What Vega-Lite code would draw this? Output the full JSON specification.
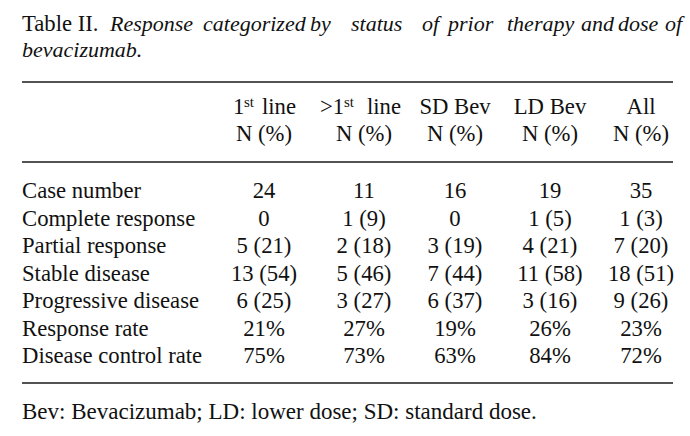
{
  "$schema": "https://vega.github.io/schema/vega-lite/v6.json",
  "width": 690,
  "height": 436,
  "autosize": {"type": "none"},
  "padding": 0,
  "background": "white",
  "config": {
    "font": "Liberation Serif",
    "view": {"stroke": null},
    "mark": {"font": "Liberation Serif"},
    "text": {"font": "Liberation Serif", "fontSize": 22.7, "baseline": "alphabetic", "color": "#111111"}
  },
  "encoding": {
    "x": {"field": "col", "type": "quantitative", "axis": null,
      "scale": {"domain": [0, 1, 2, 3, 4, 5, 6], "range": [22, 264, 364, 455, 550, 641, 673], "zero": false, "nice": false}},
    "y": {"field": "row", "type": "quantitative", "axis": null,
      "scale": {"domain": [0, 1, 2, 3, 4, 5, 6, 7, 8, 9, 10, 11, 12, 13, 14],
        "range": [31, 57, 82, 114, 141, 162, 198, 225.5, 253, 280.5, 308, 335.5, 363, 383, 419], "zero": false, "nice": false}}
  },
  "layer": [
    {
      "data": {"values": [{"row": 2, "col": 0, "colEnd": 6}, {"row": 5, "col": 0, "colEnd": 6}, {"row": 13, "col": 0, "colEnd": 6}]},
      "mark": {"type": "rule", "strokeWidth": 1.6, "color": "#1a1a1a"},
      "encoding": {"x2": {"field": "colEnd"}}
    },
    {
      "data": {"values": [{"row": 0, "col": 0, "text": "Table II."}]},
      "mark": {"type": "text", "align": "left"},
      "encoding": {"text": {"field": "text"}}
    },
    {
      "data": {"values": [{"row": 0, "col": 0, "text": "Response"}]},
      "mark": {"type": "text", "align": "left", "fontStyle": "italic", "fontSize": 22, "dx": 88},
      "encoding": {"text": {"field": "text"}}
    },
    {
      "data": {"values": [{"row": 0, "col": 0, "text": "categorized"}]},
      "mark": {"type": "text", "align": "left", "fontStyle": "italic", "fontSize": 22, "dx": 181},
      "encoding": {"text": {"field": "text"}}
    },
    {
      "data": {"values": [{"row": 0, "col": 0, "text": "by"}]},
      "mark": {"type": "text", "align": "left", "fontStyle": "italic", "fontSize": 22, "dx": 288},
      "encoding": {"text": {"field": "text"}}
    },
    {
      "data": {"values": [{"row": 0, "col": 0, "text": "status"}]},
      "mark": {"type": "text", "align": "left", "fontStyle": "italic", "fontSize": 22, "dx": 329},
      "encoding": {"text": {"field": "text"}}
    },
    {
      "data": {"values": [{"row": 0, "col": 0, "text": "of"}]},
      "mark": {"type": "text", "align": "left", "fontStyle": "italic", "fontSize": 22, "dx": 400},
      "encoding": {"text": {"field": "text"}}
    },
    {
      "data": {"values": [{"row": 0, "col": 0, "text": "prior"}]},
      "mark": {"type": "text", "align": "left", "fontStyle": "italic", "fontSize": 22, "dx": 426},
      "encoding": {"text": {"field": "text"}}
    },
    {
      "data": {"values": [{"row": 0, "col": 0, "text": "therapy"}]},
      "mark": {"type": "text", "align": "left", "fontStyle": "italic", "fontSize": 22, "dx": 485},
      "encoding": {"text": {"field": "text"}}
    },
    {
      "data": {"values": [{"row": 0, "col": 0, "text": "and"}]},
      "mark": {"type": "text", "align": "left", "fontStyle": "italic", "fontSize": 22, "dx": 559},
      "encoding": {"text": {"field": "text"}}
    },
    {
      "data": {"values": [{"row": 0, "col": 0, "text": "dose"}]},
      "mark": {"type": "text", "align": "left", "fontStyle": "italic", "fontSize": 22, "dx": 596},
      "encoding": {"text": {"field": "text"}}
    },
    {
      "data": {"values": [{"row": 0, "col": 0, "text": "of"}]},
      "mark": {"type": "text", "align": "left", "fontStyle": "italic", "fontSize": 22, "dx": 643},
      "encoding": {"text": {"field": "text"}}
    },
    {
      "data": {"values": [{"row": 1, "col": 0, "text": "bevacizumab."}]},
      "mark": {"type": "text", "align": "left", "fontStyle": "italic", "fontSize": 22},
      "encoding": {"text": {"field": "text"}}
    },
    {
      "data": {"values": [{"row": 14, "col": 0, "text": "Bev: Bevacizumab; LD: lower dose; SD: standard dose."}]},
      "mark": {"type": "text", "align": "left", "fontSize": 23},
      "encoding": {"text": {"field": "text"}}
    },
    {
      "data": {"values": [
        {"row": 3, "col": 3, "text": "SD Bev"}, {"row": 3, "col": 4, "text": "LD Bev"}, {"row": 3, "col": 5, "text": "All"},
        {"row": 4, "col": 1, "text": "N (%)"}, {"row": 4, "col": 2, "text": "N (%)"}, {"row": 4, "col": 3, "text": "N (%)"},
        {"row": 4, "col": 4, "text": "N (%)"}, {"row": 4, "col": 5, "text": "N (%)"}
      ]},
      "mark": {"type": "text", "align": "center"},
      "encoding": {"text": {"field": "text"}}
    },
    {
      "data": {"values": [{"row": 3, "col": 1, "text": "1"}]},
      "mark": {"type": "text", "align": "left", "dx": -31},
      "encoding": {"text": {"field": "text"}}
    },
    {
      "data": {"values": [{"row": 3, "col": 1, "text": "st"}]},
      "mark": {"type": "text", "align": "left", "dx": -20, "dy": -7, "fontSize": 15},
      "encoding": {"text": {"field": "text"}}
    },
    {
      "data": {"values": [{"row": 3, "col": 1, "text": "line"}]},
      "mark": {"type": "text", "align": "left", "dx": -2},
      "encoding": {"text": {"field": "text"}}
    },
    {
      "data": {"values": [{"row": 3, "col": 2, "text": ">1"}]},
      "mark": {"type": "text", "align": "left", "dx": -44},
      "encoding": {"text": {"field": "text"}}
    },
    {
      "data": {"values": [{"row": 3, "col": 2, "text": "st"}]},
      "mark": {"type": "text", "align": "left", "dx": -20, "dy": -7, "fontSize": 15},
      "encoding": {"text": {"field": "text"}}
    },
    {
      "data": {"values": [{"row": 3, "col": 2, "text": "line"}]},
      "mark": {"type": "text", "align": "left", "dx": 3},
      "encoding": {"text": {"field": "text"}}
    },
    {
      "data": {"name": "body", "values": [
        {"row": 6, "col": 0, "text": "Case number"}, {"row": 6, "col": 1, "text": "24"}, {"row": 6, "col": 2, "text": "11"}, {"row": 6, "col": 3, "text": "16"}, {"row": 6, "col": 4, "text": "19"}, {"row": 6, "col": 5, "text": "35"},
        {"row": 7, "col": 0, "text": "Complete response"}, {"row": 7, "col": 1, "text": "0"}, {"row": 7, "col": 2, "text": "1 (9)"}, {"row": 7, "col": 3, "text": "0"}, {"row": 7, "col": 4, "text": "1 (5)"}, {"row": 7, "col": 5, "text": "1 (3)"},
        {"row": 8, "col": 0, "text": "Partial response"}, {"row": 8, "col": 1, "text": "5 (21)"}, {"row": 8, "col": 2, "text": "2 (18)"}, {"row": 8, "col": 3, "text": "3 (19)"}, {"row": 8, "col": 4, "text": "4 (21)"}, {"row": 8, "col": 5, "text": "7 (20)"},
        {"row": 9, "col": 0, "text": "Stable disease"}, {"row": 9, "col": 1, "text": "13 (54)"}, {"row": 9, "col": 2, "text": "5 (46)"}, {"row": 9, "col": 3, "text": "7 (44)"}, {"row": 9, "col": 4, "text": "11 (58)"}, {"row": 9, "col": 5, "text": "18 (51)"},
        {"row": 10, "col": 0, "text": "Progressive disease"}, {"row": 10, "col": 1, "text": "6 (25)"}, {"row": 10, "col": 2, "text": "3 (27)"}, {"row": 10, "col": 3, "text": "6 (37)"}, {"row": 10, "col": 4, "text": "3 (16)"}, {"row": 10, "col": 5, "text": "9 (26)"},
        {"row": 11, "col": 0, "text": "Response rate"}, {"row": 11, "col": 1, "text": "21%"}, {"row": 11, "col": 2, "text": "27%"}, {"row": 11, "col": 3, "text": "19%"}, {"row": 11, "col": 4, "text": "26%"}, {"row": 11, "col": 5, "text": "23%"},
        {"row": 12, "col": 0, "text": "Disease control rate"}, {"row": 12, "col": 1, "text": "75%"}, {"row": 12, "col": 2, "text": "73%"}, {"row": 12, "col": 3, "text": "63%"}, {"row": 12, "col": 4, "text": "84%"}, {"row": 12, "col": 5, "text": "72%"}
      ]},
      "transform": [{"filter": "datum.col == 0"}],
      "mark": {"type": "text", "align": "left"},
      "encoding": {"text": {"field": "text"}}
    },
    {
      "data": {"name": "body"},
      "transform": [{"filter": "datum.col > 0"}],
      "mark": {"type": "text", "align": "center"},
      "encoding": {"text": {"field": "text"}}
    }
  ]
}
